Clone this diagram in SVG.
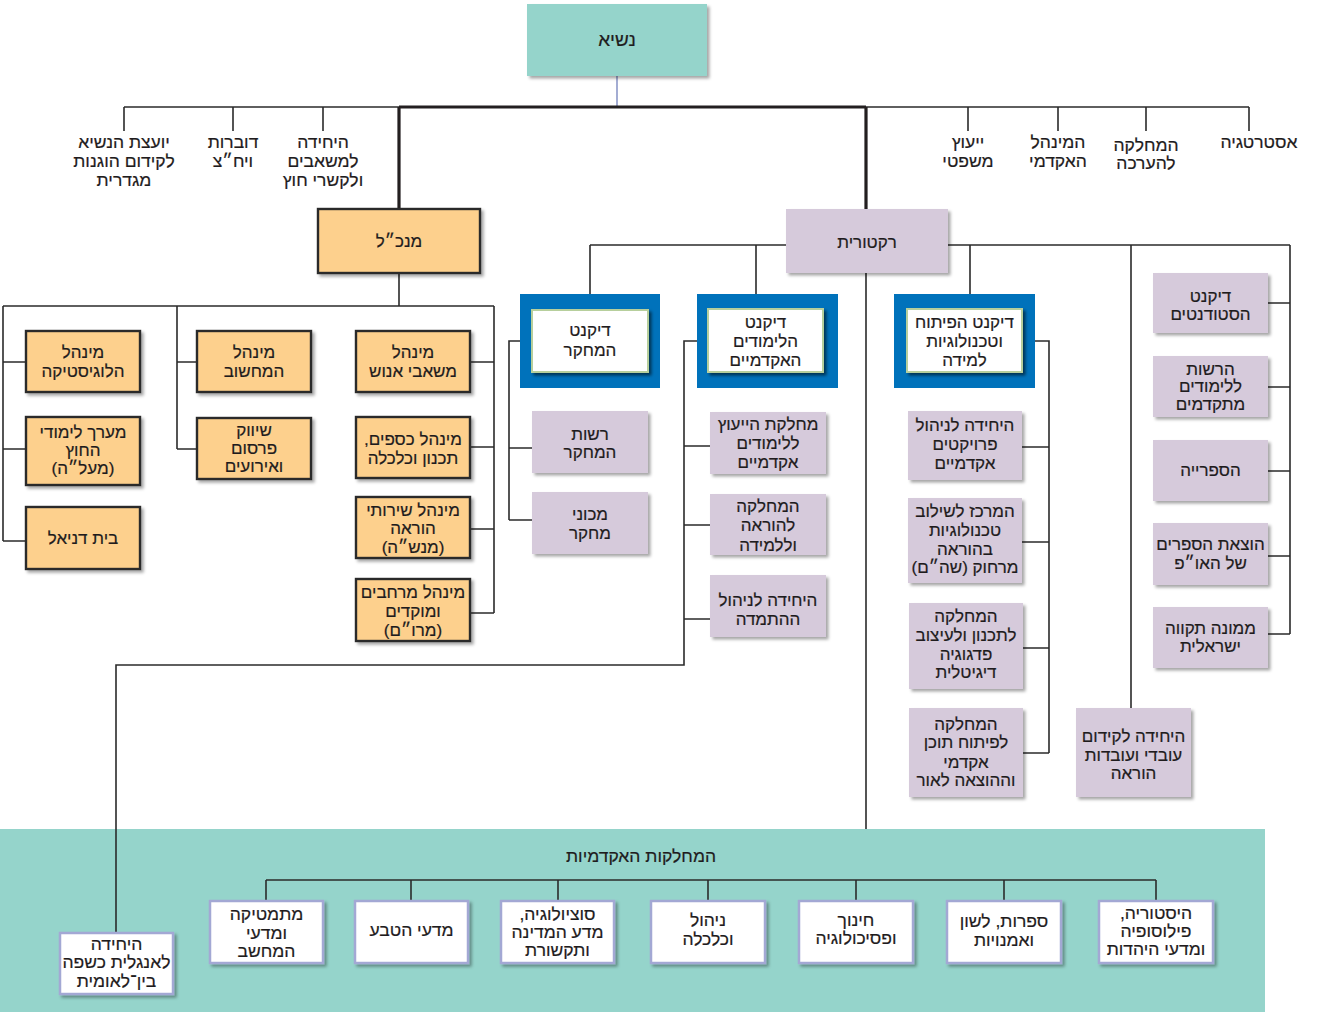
<svg xmlns="http://www.w3.org/2000/svg" width="1332" height="1012" viewBox="0 0 1332 1012">
<defs>
<filter id="sh" x="-10%" y="-10%" width="125%" height="130%">
<feDropShadow dx="2.5" dy="2.5" stdDeviation="1.5" flood-color="#000" flood-opacity="0.35"/>
</filter>
<filter id="shd" x="-10%" y="-10%" width="125%" height="130%">
<feDropShadow dx="2.5" dy="2.5" stdDeviation="1.5" flood-color="#000" flood-opacity="0.55"/>
</filter>
</defs>
<style>
text{font-family:"Liberation Sans","DejaVu Sans",sans-serif;font-size:17px;fill:#1f1c1d;stroke:#1f1c1d;stroke-width:0.2;text-anchor:middle;direction:rtl}
.big{font-size:17px}
.lbl{font-size:17.5px}
.btm{font-size:17.5px}
.pres{font-size:19px}
.ln{stroke:#2b2b2b;stroke-width:1.6;fill:none}
.th{stroke:#231f20;stroke-width:3.2;fill:none}
.teal{fill:#95d4cb}
.org{fill:#fdd08d;stroke:#2b2b2b;stroke-width:2.4;filter:url(#sh)}
.pur{fill:#d6cadb;filter:url(#sh)}
.blue{fill:#0072bb}
.inner{fill:#fff;stroke:#b7cf9c;stroke-width:2;filter:url(#shd)}
.wht{fill:#fff;stroke:#a3a8d4;stroke-width:2.5;filter:url(#sh)}
</style>
<rect width="1332" height="1012" fill="#fff"/>
<rect id="academic-area" class="teal" x="0" y="829" width="1265" height="183"/>
<g id="connectors">
<line x1="617" y1="76" x2="617" y2="107" stroke="#8c98c8" stroke-width="1.6"/>
<path class="ln" d="M124 107H399M866 107H1249M124 107V131M233 107V131M323 107V131M968 107V131M1058 107V131M1146 107V131M1249 107V131"/>
<path class="th" d="M399 107H866M399 107V209M866 107V209"/>
<path class="ln" d="M399 273V306M3 306H494M3 306V541M3 362H26M3 449H26M3 541H26M177 306V449M177 362H197M177 449H197M494 306V613M470 362H494M470 447H494M470 529H494M470 613H494"/>
<path class="ln" d="M866 273V829M590 245H786M590 245V294M756 245V294M948 245H1290M970 245V294M1131 245V708M1290 245V634M1268 303H1290M1268 387H1290M1268 471H1290M1268 556H1290M1268 634H1290"/>
<path class="ln" d="M520 341H509V520M509 448H532M509 520H532"/>
<path class="ln" d="M697 341H684V665H116V933M684 446H710M684 525H710M684 619H710"/>
<path class="ln" d="M1035 341H1049V753M1022 447H1049M1022 542H1049M1023 648H1049M1023 753H1049"/>
<path class="ln" d="M266 880H1156M266 880V901M411 880V901M558 880V901M708 880V901M856 880V901M1004 880V901M1156 880V901"/>
</g>
<g id="top-labels">
<text class="lbl"><tspan x="124" y="148">יועצת הנשיא</tspan><tspan x="124" y="167">לקידום הוגנות</tspan><tspan x="124" y="186">מגדרית</tspan></text>
<text class="lbl"><tspan x="233" y="148">דוברות</tspan><tspan x="233" y="167">ויח״צ</tspan></text>
<text class="lbl"><tspan x="323" y="148">היחידה</tspan><tspan x="323" y="167">למשאבים</tspan><tspan x="323" y="186">ולקשרי חוץ</tspan></text>
<text class="lbl"><tspan x="968" y="148">ייעוץ</tspan><tspan x="968" y="167">משפטי</tspan></text>
<text class="lbl"><tspan x="1058" y="148">המינהל</tspan><tspan x="1058" y="167">האקדמי</tspan></text>
<text class="lbl"><tspan x="1146" y="151">המחלקה</tspan><tspan x="1146" y="169">להערכה</tspan></text>
<text class="lbl" x="1259" y="148">אסטרטגיה</text>
</g>
<g id="president"><rect class="teal" x="527" y="4" width="180" height="72" filter="url(#sh)"/><text class="pres" x="617" y="46">נשיא</text></g>
<g id="ceo"><rect class="org" x="318" y="209" width="162" height="64"/><text class="big" x="399" y="247">מנכ״ל</text></g>
<g id="rectorate"><rect class="pur" x="786" y="209" width="162" height="64"/><text class="big" x="867" y="248">רקטורית</text></g>

<g id="logistics"><rect class="org" x="26" y="331" width="114" height="61"/><text class="big"><tspan x="83" y="357.5">מינהל</tspan><tspan x="83" y="376.5">הלוגיסטיקה</tspan></text></g>
<g id="extension"><rect class="org" x="26" y="417" width="114" height="68"/><text class="big"><tspan x="83" y="437.5">מערך לימודי</tspan><tspan x="83" y="455.5">החוץ</tspan><tspan x="83" y="473.5">(מעל״ה)</tspan></text></g>
<g id="beit-daniel"><rect class="org" x="26" y="507" width="114" height="62"/><text class="big" x="83" y="543.5">בית דניאל</text></g>
<g id="computing"><rect class="org" x="197" y="331" width="114" height="61"/><text class="big"><tspan x="254" y="357.5">מינהל</tspan><tspan x="254" y="376.5">המחשוב</tspan></text></g>
<g id="marketing"><rect class="org" x="197" y="418" width="114" height="61"/><text class="big"><tspan x="254" y="436">שיווק</tspan><tspan x="254" y="454">פרסום</tspan><tspan x="254" y="472">ואירועים</tspan></text></g>
<g id="hr"><rect class="org" x="356" y="331" width="114" height="61"/><text class="big"><tspan x="413" y="357.5">מינהל</tspan><tspan x="413" y="376.5">משאבי אנוש</tspan></text></g>
<g id="finance"><rect class="org" x="356" y="417" width="114" height="61"/><text class="big"><tspan x="413" y="444.5">מינהל כספים,</tspan><tspan x="413" y="463.5">תכנון וכלכלה</tspan></text></g>
<g id="teaching-services"><rect class="org" x="356" y="497" width="114" height="61"/><text class="big"><tspan x="413" y="515.5">מינהל שירותי</tspan><tspan x="413" y="533.5">הוראה</tspan><tspan x="413" y="552.5">(מנש״ה)</tspan></text></g>
<g id="spaces"><rect class="org" x="356" y="579" width="114" height="62"/><text class="big"><tspan x="413" y="597.5">מינהל מרחבים</tspan><tspan x="413" y="616.5">ומוקדים</tspan><tspan x="413" y="635.5">(מרו״ם)</tspan></text></g>

<g id="dean-research"><rect class="blue" x="520" y="294" width="140" height="94" fill="#0a7cc4"/><rect class="inner" x="532" y="310" width="116" height="62"/><text><tspan x="590" y="336">דיקנט</tspan><tspan x="590" y="355.5">המחקר</tspan></text></g>
<g id="dean-academic"><rect class="blue" x="697" y="294" width="141" height="94"/><rect class="inner" x="708" y="309" width="115" height="63"/><text><tspan x="765.5" y="328">דיקנט</tspan><tspan x="765.5" y="347">הלימודים</tspan><tspan x="765.5" y="366">האקדמיים</tspan></text></g>
<g id="dean-development"><rect class="blue" x="894" y="294" width="141" height="94"/><rect class="inner" x="907" y="309" width="115" height="63"/><text><tspan x="964.5" y="328">דיקנט הפיתוח</tspan><tspan x="964.5" y="347">וטכנולוגיות</tspan><tspan x="964.5" y="366">למידה</tspan></text></g>

<g id="research-authority"><rect class="pur" x="532" y="411" width="116" height="62"/><text><tspan x="590" y="439.5">רשות</tspan><tspan x="590" y="458">המחקר</tspan></text></g>
<g id="research-institutes"><rect class="pur" x="532" y="492" width="116" height="62"/><text><tspan x="590" y="520">מכוני</tspan><tspan x="590" y="539">מחקר</tspan></text></g>

<g id="advising"><rect class="pur" x="710" y="412" width="116" height="62"/><text><tspan x="768" y="429.5">מחלקת הייעוץ</tspan><tspan x="768" y="449">ללימודים</tspan><tspan x="768" y="468">אקדמיים</tspan></text></g>
<g id="teaching-learning"><rect class="pur" x="710" y="494" width="116" height="61"/><text><tspan x="768" y="512">המחלקה</tspan><tspan x="768" y="531">להוראה</tspan><tspan x="768" y="550.5">וללמידה</tspan></text></g>
<g id="retention"><rect class="pur" x="710" y="575" width="116" height="62"/><text><tspan x="768" y="606">היחידה לניהול</tspan><tspan x="768" y="625">ההתמדה</tspan></text></g>

<g id="projects"><rect class="pur" x="908" y="411" width="114" height="69"/><text><tspan x="965" y="430.5">היחידה לניהול</tspan><tspan x="965" y="450">פרויקטים</tspan><tspan x="965" y="469">אקדמיים</tspan></text></g>
<g id="shoham"><rect class="pur" x="908" y="498" width="114" height="85"/><text><tspan x="965" y="517">המרכז לשילוב</tspan><tspan x="965" y="536">טכנולוגיות</tspan><tspan x="965" y="555">בהוראה</tspan><tspan x="965" y="573">מרחוק (שה״ם)</tspan></text></g>
<g id="digital-pedagogy"><rect class="pur" x="909" y="603" width="114" height="86"/><text><tspan x="966" y="622">המחלקה</tspan><tspan x="966" y="640.5">לתכנון ולעיצוב</tspan><tspan x="966" y="660">פדגוגיה</tspan><tspan x="966" y="678">דיגיטלית</tspan></text></g>
<g id="content-dev"><rect class="pur" x="909" y="708" width="114" height="89"/><text><tspan x="966" y="730">המחלקה</tspan><tspan x="966" y="748">לפיתוח תוכן</tspan><tspan x="966" y="767.5">אקדמי</tspan><tspan x="966" y="786">וההוצאה לאור</tspan></text></g>

<g id="faculty-promotion"><rect class="pur" x="1076" y="708" width="115" height="89"/><text><tspan x="1133.5" y="742">היחידה לקידום</tspan><tspan x="1133.5" y="760.5">עובדי ועובדות</tspan><tspan x="1133.5" y="779">הוראה</tspan></text></g>

<g id="dean-students"><rect class="pur" x="1153" y="273" width="115" height="60"/><text><tspan x="1210.5" y="301.5">דיקנט</tspan><tspan x="1210.5" y="319.5">הסטודנטים</tspan></text></g>
<g id="graduate"><rect class="pur" x="1153" y="356" width="115" height="61"/><text><tspan x="1210.5" y="374.5">הרשות</tspan><tspan x="1210.5" y="392">ללימודים</tspan><tspan x="1210.5" y="410">מתקדמים</tspan></text></g>
<g id="library"><rect class="pur" x="1153" y="440" width="115" height="61"/><text x="1210.5" y="476">הספרייה</text></g>
<g id="press"><rect class="pur" x="1153" y="523" width="115" height="62"/><text><tspan x="1210.5" y="550">הוצאת הספרים</tspan><tspan x="1210.5" y="568.5">של האו״פ</tspan></text></g>
<g id="israeli-hope"><rect class="pur" x="1153" y="607" width="115" height="61"/><text><tspan x="1210.5" y="633.5">ממונה תקווה</tspan><tspan x="1210.5" y="651.5">ישראלית</tspan></text></g>

<g id="academic-title"><text class="btm" x="641" y="861.5">המחלקות האקדמיות</text></g>
<g id="math-cs"><rect class="wht" x="210" y="901" width="113" height="62"/><text class="btm"><tspan x="266.5" y="919.5">מתמטיקה</tspan><tspan x="266.5" y="938.5">ומדעי</tspan><tspan x="266.5" y="956.5">המחשב</tspan></text></g>
<g id="natural-sciences"><rect class="wht" x="355" y="901" width="113" height="62"/><text class="btm" x="411.5" y="935.5">מדעי הטבע</text></g>
<g id="sociology"><rect class="wht" x="501" y="901" width="113" height="62"/><text class="btm"><tspan x="557.5" y="919.5">סוציולוגיה,</tspan><tspan x="557.5" y="938">מדע המדינה</tspan><tspan x="557.5" y="955.5">ותקשורת</tspan></text></g>
<g id="management"><rect class="wht" x="651" y="901" width="114" height="62"/><text class="btm"><tspan x="708" y="926">ניהול</tspan><tspan x="708" y="944.5">וכלכלה</tspan></text></g>
<g id="education"><rect class="wht" x="799" y="901" width="114" height="62"/><text class="btm"><tspan x="856" y="925.5">חינוך</tspan><tspan x="856" y="944">ופסיכולוגיה</tspan></text></g>
<g id="literature"><rect class="wht" x="947" y="901" width="114" height="62"/><text class="btm"><tspan x="1004" y="927">ספרות, לשון</tspan><tspan x="1004" y="945.5">ואמנויות</tspan></text></g>
<g id="history"><rect class="wht" x="1099" y="901" width="114" height="62"/><text class="btm"><tspan x="1156" y="919">היסטוריה,</tspan><tspan x="1156" y="937">פילוסופיה</tspan><tspan x="1156" y="955">ומדעי היהדות</tspan></text></g>
<g id="english-unit"><rect class="wht" x="60" y="933" width="113" height="61"/><text class="btm"><tspan x="116.5" y="949.5">היחידה</tspan><tspan x="116.5" y="968">לאנגלית כשפה</tspan><tspan x="116.5" y="986.5">בין־לאומית</tspan></text></g>
</svg>
